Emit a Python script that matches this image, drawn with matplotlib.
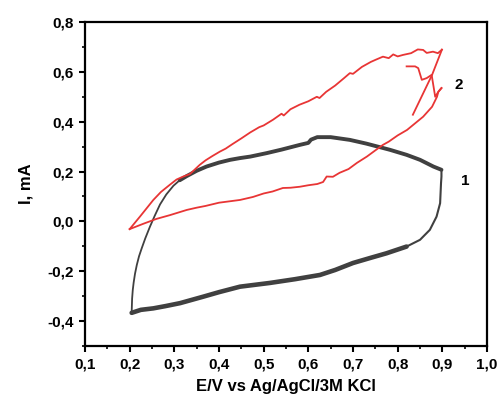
import numpy as np
import matplotlib
matplotlib.use("Agg")
import matplotlib.pyplot as plt
from matplotlib.ticker import FixedLocator, MultipleLocator, FuncFormatter

plt.rcParams['font.family'] = ['Liberation Sans', 'DejaVu Sans']

# Curve 1 (gray): forward branch (thin rising part, then thick plateau)
c1_up_E = [0.2045, 0.2055, 0.207, 0.209, 0.212, 0.216, 0.221, 0.227, 0.235, 0.2455, 0.256, 0.268, 0.282, 0.298, 0.312]
c1_up_I = [-0.365, -0.310, -0.275, -0.245, -0.210, -0.175, -0.140, -0.108, -0.068, -0.021, 0.022, 0.068, 0.108, 0.143, 0.165]
c1_top_E = [0.312, 0.328, 0.350, 0.372, 0.400, 0.425, 0.447, 0.470, 0.507, 0.540, 0.581, 0.600, 0.606,
            0.620, 0.650, 0.693, 0.730, 0.783, 0.820, 0.850, 0.880, 0.898]
c1_top_I = [0.165, 0.182, 0.203, 0.220, 0.236, 0.247, 0.254, 0.260, 0.274, 0.288, 0.307, 0.315, 0.328,
            0.338, 0.338, 0.327, 0.312, 0.287, 0.267, 0.247, 0.220, 0.207]
# Curve 1 reverse branch (right side thin, bottom thick)
c1_right_E = [0.898, 0.898, 0.897, 0.895, 0.887, 0.872, 0.850, 0.820]
c1_right_I = [0.207, 0.180, 0.153, 0.073, 0.019, -0.034, -0.074, -0.101]
c1_bot_E = [0.820, 0.775, 0.740, 0.700, 0.660, 0.626, 0.570, 0.514, 0.447, 0.400, 0.365,
            0.313, 0.280, 0.253, 0.225, 0.2045]
c1_bot_I = [-0.101, -0.128, -0.146, -0.167, -0.195, -0.215, -0.232, -0.247, -0.262, -0.284, -0.302,
            -0.328, -0.340, -0.349, -0.355, -0.367]

# Curve 2 (red)
c2_upper_E = [0.200, 0.223, 0.253, 0.270, 0.290, 0.305, 0.320, 0.335, 0.357, 0.370, 0.385,
              0.402, 0.415, 0.430, 0.450, 0.470, 0.490, 0.500, 0.521, 0.540, 0.545, 0.560,
              0.580, 0.600, 0.619, 0.625, 0.640, 0.660, 0.680, 0.693, 0.700, 0.720, 0.740, 0.750,
              0.767, 0.780, 0.790, 0.800, 0.812, 0.830, 0.845, 0.857, 0.865, 0.879, 0.890, 0.899]
c2_upper_I = [-0.031, 0.019, 0.086, 0.118, 0.147, 0.168, 0.180, 0.190, 0.227, 0.245, 0.262,
              0.280, 0.292, 0.310, 0.333, 0.357, 0.378, 0.385, 0.408, 0.432, 0.425, 0.450,
              0.468, 0.482, 0.500, 0.495, 0.520, 0.545, 0.575, 0.595, 0.592, 0.620, 0.640, 0.648,
              0.661, 0.655, 0.670, 0.662, 0.668, 0.675, 0.690, 0.688, 0.676, 0.681, 0.675, 0.689]
c2_down_E = [0.899, 0.877, 0.834]
c2_down_I = [0.689, 0.588, 0.428]
c2_lower_E = [0.200, 0.230, 0.260, 0.290, 0.328, 0.350, 0.370, 0.400, 0.430, 0.447, 0.476, 0.500,
              0.520, 0.543, 0.560, 0.581, 0.600, 0.620, 0.633, 0.641, 0.655, 0.670, 0.690, 0.709,
              0.731, 0.750, 0.767, 0.780, 0.800, 0.821, 0.840, 0.857, 0.867, 0.877, 0.888, 0.891, 0.898]
c2_lower_I = [-0.031, -0.010, 0.010, 0.025, 0.046, 0.055, 0.062, 0.075, 0.082, 0.086, 0.098, 0.112,
              0.120, 0.134, 0.135, 0.139, 0.145, 0.150, 0.158, 0.180, 0.179, 0.195, 0.210, 0.235,
              0.260, 0.285, 0.307, 0.320, 0.345, 0.367, 0.395, 0.420, 0.440, 0.460, 0.500, 0.520, 0.535]
c2_hook_E = [0.820, 0.839, 0.846, 0.854, 0.865, 0.876, 0.884, 0.891, 0.898]
c2_hook_I = [0.622, 0.622, 0.615, 0.568, 0.575, 0.588, 0.500, 0.520, 0.535]

x_ticks = [0.1, 0.2, 0.3, 0.4, 0.5, 0.6, 0.7, 0.8, 0.9, 1.0]
y_ticks = [-0.4, -0.2, 0.0, 0.2, 0.4, 0.6, 0.8]

GRAY = '#404040'
RED = '#e83535'

fig = plt.figure(figsize=(4.99, 4.04), dpi=100)
ax = fig.add_axes([0.1703, 0.1436, 0.8057, 0.8019])

ax.plot(c1_up_E, c1_up_I, color=GRAY, lw=1.3, solid_capstyle='round')
ax.plot(c1_top_E, c1_top_I, color=GRAY, lw=2.8, solid_capstyle='round')
ax.plot(c1_right_E, c1_right_I, color=GRAY, lw=1.5, solid_capstyle='round')
ax.plot(c1_bot_E, c1_bot_I, color=GRAY, lw=3.3, solid_capstyle='round')

for E, I in [(c2_upper_E, c2_upper_I), (c2_down_E, c2_down_I),
             (c2_lower_E, c2_lower_I), (c2_hook_E, c2_hook_I)]:
    ax.plot(E, I, color=RED, lw=1.3)

ax.set_xlim(0.1, 1.0)
ax.set_ylim(-0.5, 0.8)
ax.xaxis.set_major_locator(FixedLocator(x_ticks))
ax.yaxis.set_major_locator(FixedLocator(y_ticks))
ax.xaxis.set_minor_locator(MultipleLocator(0.05))
ax.yaxis.set_minor_locator(MultipleLocator(0.1))
fmt = FuncFormatter(lambda v, p: f"{v:.1f}".replace('.', ',').replace('-0,0', '0,0'))
ax.xaxis.set_major_formatter(fmt)
ax.yaxis.set_major_formatter(fmt)

ax.tick_params(which='major', direction='out', length=4.5, width=1.5, labelsize=11)
ax.tick_params(which='minor', direction='out', length=2.5, width=1.2)
ax.tick_params(top=False, right=False, which='both')
for lab in ax.get_xticklabels() + ax.get_yticklabels():
    lab.set_fontweight('bold')
for s in ax.spines.values():
    s.set_linewidth(1.6)

ax.set_xlabel('E/V vs Ag/AgCl/3M KCl', fontsize=12, fontweight='bold', labelpad=6)
ax.set_ylabel('I, mA', fontsize=12, fontweight='bold', labelpad=10)

ax.text(0.951, 0.163, '1', fontsize=11, fontweight='bold', va='center', ha='center')
ax.text(0.937, 0.548, '2', fontsize=11, fontweight='bold', va='center', ha='center')

fig.savefig('out.png', dpi=100)
